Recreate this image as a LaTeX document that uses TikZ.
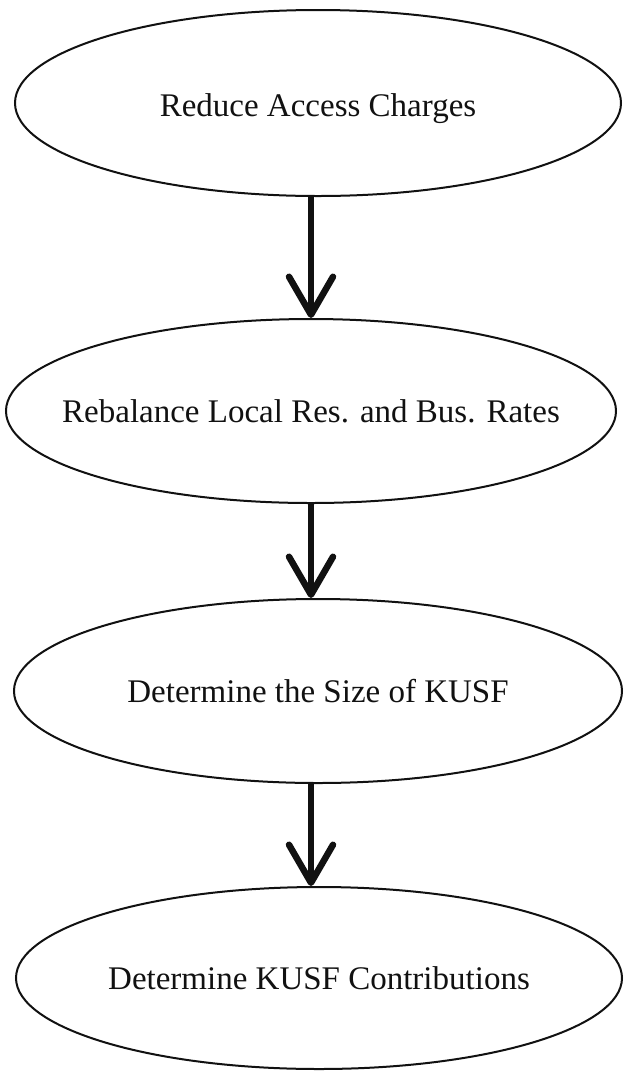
\documentclass[tikz,border=0pt]{standalone}
\usepackage{fontspec}
\setmainfont{Liberation Serif}
\usepackage{tikz}
\usetikzlibrary{arrows.meta, shapes.geometric}
\definecolor{Ink}{HTML}{111111}

\begin{document}
\begin{tikzpicture}[
  x=1pt, y=-1pt,
  font=\fontsize{33}{38}\selectfont,
  stage/.style={ellipse, draw=Ink, line width=2pt, inner ysep=0pt, inner xsep=-120pt, align=center, text=Ink},
  arrow/.style={-{Straight Barb[length=38pt, width=44pt, round]}, line width=6.5pt, draw=Ink}
]
\useasboundingbox (0,0) rectangle (624,1072);

\node[stage, minimum width=606pt, minimum height=186pt] (reduce) at (318,103) {\raisebox{-6pt}[\height][\depth]{Reduce Access Charges}};
\node[stage, minimum width=610pt, minimum height=184pt] (rebalance) at (311,411) {Rebalance Local Res. and Bus. Rates};
\node[stage, minimum width=608pt, minimum height=184pt] (size) at (318,691) {Determine the Size of KUSF};
\node[stage, minimum width=606pt, minimum height=182pt] (contrib) at (319,978) {Determine KUSF Contributions};

\draw[arrow] (rebalance.north |- reduce.south) -- (rebalance.north);
\draw[arrow] (rebalance.south) -- (rebalance.south |- size.north);
\draw[arrow] (rebalance.south |- size.south) -- (rebalance.south |- contrib.north);
\end{tikzpicture}
\end{document}
